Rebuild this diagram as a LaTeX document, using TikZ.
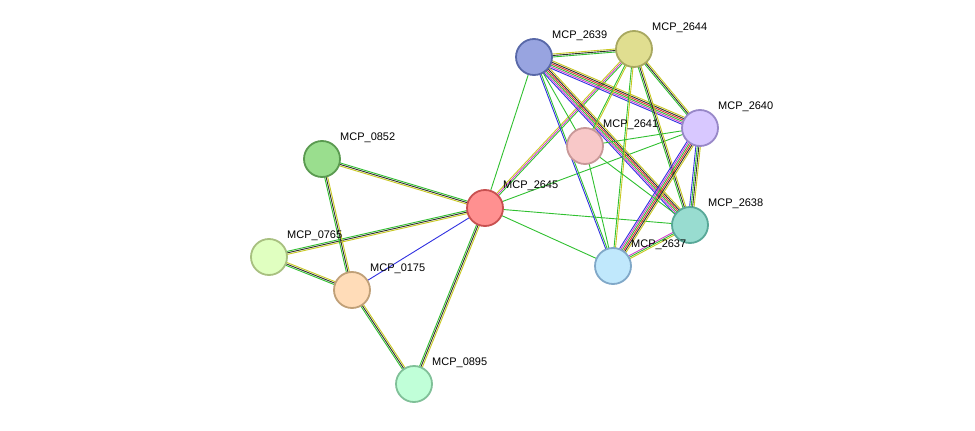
\documentclass[tikz,border=0pt]{standalone}
\usepackage{fontspec}
\setmainfont{Liberation Sans}
\usetikzlibrary{calc}
\definecolor{eg}{HTML}{30C030}
\definecolor{ey}{HTML}{C8C820}
\definecolor{eb}{HTML}{3030E0}
\definecolor{em}{HTML}{D040D0}
\definecolor{ek}{HTML}{303030}
\definecolor{er}{HTML}{E03030}
\newcommand\medge[3]{%
  \foreach \c [count=\i] in {#3} {
    \pgfmathsetmacro\o{(\i-(#2+1)/2)*1.5}
    \draw[line width=0.9pt,\c] ($(#1)!\o pt!90:(#2x)$) -- ($(#2x)!\o pt!-90:(#1)$);
  }}
\newcommand\E[4]{%
  \foreach \c [count=\i] in {#4} {
    \pgfmathsetmacro\o{(\i-(#3+1)/2)*1.5}
    \draw[line width=0.9pt,\c] ($(#1)!\o pt!90:(#2)$) -- ($(#2)!\o pt!-90:(#1)$);
  }}
\tikzset{
  prot/.style={circle,minimum size=36pt,inner sep=0pt,line width=1.8pt},
  lab/.style={anchor=west,font=\fontsize{11}{12}\selectfont,inner sep=0pt}
}
\begin{document}
\begin{tikzpicture}[x=1pt,y=-1pt]
\useasboundingbox (0,0) rectangle (975,431);
\coordinate (p2645) at (485,208);
\coordinate (p0852) at (322,159);
\coordinate (p0765) at (269,257);
\coordinate (p0175) at (352,290);
\coordinate (p0895) at (414,384);
\coordinate (p2639) at (534,57);
\coordinate (p2644) at (634,49);
\coordinate (p2640) at (700,128);
\coordinate (p2641) at (585,146);
\coordinate (p2638) at (690,225);
\coordinate (p2637) at (613,266);
% edges
\E{p2645}{p0852}{3}{eg,ek,ey}
\E{p2645}{p0765}{3}{eg,ek,ey}
\E{p2645}{p0175}{1}{eb}
\E{p2645}{p0895}{3}{eg,ek,ey}
\E{p0852}{p0175}{3}{eg,ek,ey}
\E{p0765}{p0175}{3}{eg,ek,ey}
\E{p0175}{p0895}{3}{eg,ek,ey}
\E{p2645}{p2639}{1}{eg}
\E{p2645}{p2644}{3}{eg,em,ey}
\E{p2645}{p2640}{1}{eg}
\E{p2645}{p2638}{1}{eg}
\E{p2645}{p2637}{1}{eg}
\E{p2639}{p2644}{3}{eg,ek,ey}
\E{p2639}{p2640}{6}{eb,em,eg,er,ek,ey}
\E{p2639}{p2638}{6}{eb,em,eg,er,ek,ey}
\E{p2639}{p2637}{2}{eb,eg}
\E{p2639}{p2641}{1}{eg}
\E{p2644}{p2640}{3}{eg,ek,ey}
\E{p2644}{p2638}{3}{eg,ek,ey}
\E{p2644}{p2637}{2}{eg,ey}
\E{p2644}{p2641}{2}{eg,ey}
\E{p2640}{p2637}{6}{eb,em,eg,er,ek,ey}
\E{p2640}{p2638}{4}{eb,eg,ek,ey}
\E{p2640}{p2641}{1}{eg}
\E{p2638}{p2637}{3}{em,eg,ey}
\E{p2641}{p2638}{1}{eg}
\E{p2641}{p2637}{1}{eg}
% nodes
\node[prot,fill={rgb,255:red,255;green,144;blue,144},draw={rgb,255:red,200;green,80;blue,80}] (n2645) at (p2645) {};
\node[prot,fill={rgb,255:red,154;green,222;blue,142},draw={rgb,255:red,90;green,154;blue,80}] (n0852) at (p0852) {};
\node[prot,fill={rgb,255:red,224;green,255;blue,192},draw={rgb,255:red,168;green,192;blue,128}] (n0765) at (p0765) {};
\node[prot,fill={rgb,255:red,255;green,220;blue,184},draw={rgb,255:red,192;green,160;blue,120}] (n0175) at (p0175) {};
\node[prot,fill={rgb,255:red,192;green,255;blue,216},draw={rgb,255:red,128;green,192;blue,152}] (n0895) at (p0895) {};
\node[prot,fill={rgb,255:red,152;green,164;blue,224},draw={rgb,255:red,88;green,104;blue,168}] (n2639) at (p2639) {};
\node[prot,fill={rgb,255:red,224;green,222;blue,144},draw={rgb,255:red,168;green,168;blue,96}] (n2644) at (p2644) {};
\node[prot,fill={rgb,255:red,216;green,200;blue,255},draw={rgb,255:red,152;green,136;blue,200}] (n2640) at (p2640) {};
\node[prot,fill={rgb,255:red,248;green,200;blue,200},draw={rgb,255:red,200;green,152;blue,152}] (n2641) at (p2641) {};
\node[prot,fill={rgb,255:red,152;green,220;blue,208},draw={rgb,255:red,88;green,168;blue,152}] (n2638) at (p2638) {};
\node[prot,fill={rgb,255:red,192;green,232;blue,252},draw={rgb,255:red,128;green,168;blue,200}] (n2637) at (p2637) {};
% labels
\node[lab] (l2645) at ($(p2645)+(18,-22)$) {MCP\_2645};
\node[lab] (l0852) at ($(p0852)+(18,-21)$) {MCP\_0852};
\node[lab] (l0765) at ($(p0765)+(18,-21)$) {MCP\_0765};
\node[lab] (l0175) at ($(p0175)+(18,-21)$) {MCP\_0175};
\node[lab] (l0895) at ($(p0895)+(18,-21)$) {MCP\_0895};
\node[lab] (l2639) at ($(p2639)+(18,-21)$) {MCP\_2639};
\node[lab] (l2644) at ($(p2644)+(18,-21)$) {MCP\_2644};
\node[lab] (l2640) at ($(p2640)+(18,-21)$) {MCP\_2640};
\node[lab] (l2641) at ($(p2641)+(18,-21)$) {MCP\_2641};
\node[lab] (l2638) at ($(p2638)+(18,-21)$) {MCP\_2638};
\node[lab] (l2637) at ($(p2637)+(18,-21)$) {MCP\_2637};
\end{tikzpicture}
\end{document}
